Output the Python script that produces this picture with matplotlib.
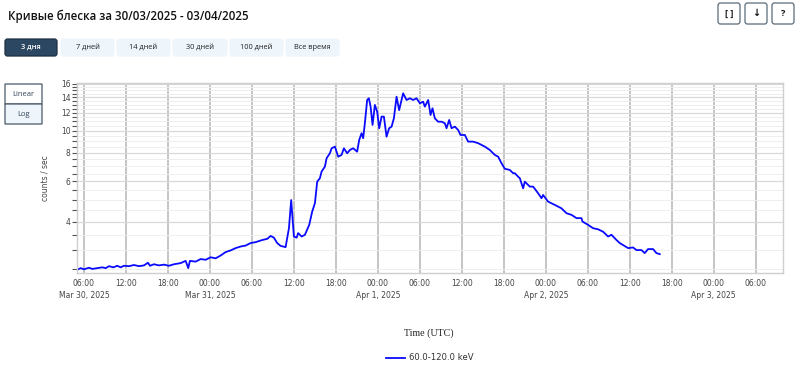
import matplotlib
matplotlib.use('Agg')
from matplotlib import pyplot as plt
from matplotlib.patches import FancyBboxPatch
from matplotlib.ticker import FixedLocator, NullFormatter
import pandas as pd

# Light curve, 60-120 keV (hours since 2025-03-30 00:00 UTC, counts/sec)
hours = [5.04, 5.53, 6.0, 6.71, 7.19, 7.9, 8.61, 9.1, 9.57, 10.19,
         10.76, 11.24, 11.71, 12.43, 13.14, 13.86, 14.57, 15.14, 15.43, 16.0,
         16.71, 17.43, 18.14, 18.86, 19.81, 20.53, 20.9, 21.14, 21.96, 22.67,
         23.39, 24.1, 24.81, 25.53, 26.24, 26.96, 27.67, 28.39, 29.1, 29.81,
         30.53, 31.47, 32.19, 32.67, 33.14, 33.61, 34.1, 34.81,
         35.29, 35.61, 36.0, 36.39, 36.61, 37.1, 37.57,
         38.19, 38.61, 39.0, 39.33, 39.71, 39.96, 40.43, 40.67, 41.14, 41.39,
         41.86, 42.33, 42.81, 43.14, 43.61, 44.0, 44.47, 45.04, 45.33, 45.67,
         45.9, 46.14, 46.47, 46.71, 46.96, 47.24, 47.57, 47.9, 48.19, 48.53,
         48.86, 49.24, 49.61, 49.96, 50.29, 50.67, 51.04, 51.61, 52.1, 52.57,
         53.04, 53.53, 54.0, 54.47, 54.71, 55.19, 55.53, 55.81, 56.14, 56.61,
         57.1, 57.57, 57.81, 58.19, 58.53, 59.0, 59.47, 59.81, 60.43, 60.9,
         61.61, 62.33, 63.29, 64.0, 64.71, 65.19, 65.67, 66.14, 66.86, 67.33,
         67.57, 68.04, 68.29, 68.53, 68.76, 69.0, 69.71, 70.19, 70.9, 71.39,
         71.61, 72.33, 73.29, 74.24, 74.96, 75.67, 76.39, 77.1, 77.24, 78.04,
         78.76, 79.47, 80.19, 80.9, 81.39, 82.1, 82.57, 83.76, 84.47, 84.96,
         85.67, 86.14, 86.61, 87.33, 87.81, 88.29]
rate = [2.47, 2.51, 2.48, 2.52, 2.49, 2.51, 2.53, 2.51, 2.56, 2.53,
        2.57, 2.53, 2.57, 2.56, 2.59, 2.56, 2.58, 2.65, 2.57, 2.61,
        2.58, 2.60, 2.57, 2.61, 2.64, 2.70, 2.51, 2.70, 2.68, 2.75,
        2.73, 2.80, 2.77, 2.85, 2.95, 3.00, 3.07, 3.12, 3.15, 3.23,
        3.26, 3.33, 3.37, 3.47, 3.41, 3.23, 3.14, 3.10,
        3.75, 4.98, 3.45, 3.41, 3.57, 3.45, 3.51,
        3.88, 4.43, 4.82, 5.99, 6.20, 6.63, 6.97, 7.58, 7.97, 8.38,
        8.52, 7.70, 7.84, 8.38, 7.97, 8.24, 8.38, 8.10, 9.11, 9.75,
        9.27, 10.78, 13.62, 13.86, 12.74, 10.60, 12.96, 12.11, 10.25, 11.52,
        11.52, 9.42, 10.25, 10.42, 11.33, 14.08, 12.30, 14.57, 13.62, 13.86,
        13.62, 13.86, 13.18, 13.39, 12.74, 13.62, 11.71, 12.53, 11.33, 10.95,
        10.95, 10.78, 10.25, 11.14, 10.25, 10.42, 10.08, 9.58, 9.58, 8.96,
        8.96, 8.82, 8.52, 8.24, 7.84, 7.70, 7.21, 6.82, 6.74, 6.52,
        6.52, 6.30, 6.20, 5.89, 5.60, 5.99, 5.70, 5.70, 5.33, 5.07,
        5.24, 4.90, 4.74, 4.58, 4.36, 4.29, 4.15, 4.15, 4.01, 3.88,
        3.75, 3.71, 3.62, 3.45, 3.51, 3.33, 3.23, 3.07, 3.09, 3.01,
        3.01, 2.92, 3.04, 3.04, 2.92, 2.89]

# x axis ticks every 6 h
tick_hours = [6, 12, 18, 24, 30, 36, 42, 48, 54, 60, 66, 72, 78, 84, 90, 96, 102]
tick_labels = ['06:00\nMar 30, 2025', '12:00', '18:00', '00:00\nMar 31, 2025', '06:00', '12:00',
               '18:00', '00:00\nApr 1, 2025', '06:00', '12:00', '18:00', '00:00\nApr 2, 2025',
               '06:00', '12:00', '18:00', '00:00\nApr 3, 2025', '06:00']
y_major = [4, 6, 8, 10, 12, 14, 16]
y_minor = [2.5, 3, 3.5, 4.5, 5, 5.5, 6.5, 7, 7.5, 8.5, 9, 9.5, 10.5, 11, 11.5,
           12.5, 13, 13.5, 14.5, 15, 15.5]

range_buttons = ['3 дня', '7 дней', '14 дней', '30 дней', '100 дней', 'Все время']

t0 = pd.Timestamp('2025-03-30 00:00')
times = t0 + pd.to_timedelta(hours, unit='h')
tick_times = t0 + pd.to_timedelta(tick_hours, unit='h')

W, H = 800, 368
fig = plt.figure(figsize=(W / 100, H / 100), dpi=100)

# main plot area
ax = fig.add_axes([77 / W, (H - 273) / H, (783 - 77) / W, (273 - 83) / H])
line, = ax.plot(times, rate, color='#0a0aff', lw=1.3, label='60.0-120.0 keV')
ax.set_yscale('log')
ax.set_ylim(2.39, 16.16)
ax.set_xlim(t0 + pd.Timedelta(hours=5), t0 + pd.Timedelta(hours=105.9))

ax.yaxis.set_major_locator(FixedLocator(y_major))
ax.yaxis.set_minor_locator(FixedLocator(y_minor))
ax.set_yticklabels([str(v) for v in y_major])
ax.yaxis.set_minor_formatter(NullFormatter())
ax.tick_params(axis='y', which='both', length=3.5, width=0.8, color='#555555',
               labelsize=5.5, labelcolor='#444444', pad=1)

ax.set_xticks(tick_times)
ax.set_xticklabels(tick_labels, linespacing=1.55)
ax.tick_params(axis='x', length=0, labelsize=5.5, labelcolor='#444444', pad=4)

ax.grid(which='minor', axis='y', color='#eeeeee', lw=0.7)
ax.grid(which='major', axis='y', color='#d9d9d9', lw=0.9)
ax.grid(which='major', axis='x', color='#b5b5b5', lw=1.1)
ax.set_axisbelow(True)
for s in ax.spines.values():
    s.set_color('#cfcfcf')
    s.set_linewidth(1)

# overlay in pixel coordinates for title, buttons and labels
ui = fig.add_axes([0, 0, 1, 1], zorder=-1)
ui.set_xlim(0, W)
ui.set_ylim(H, 0)
ui.axis('off')

ui.text(8, 16, 'Кривые блеска за 30/03/2025 - 03/04/2025', fontsize=8.3,
        family='Open Sans', fontweight='semibold', color='#111111', va='center')


def button(x0, y0, x1, y1, text, fc, ec, tc, size, weight='normal', r=2.5):
    ui.add_patch(FancyBboxPatch((x0 + r, y0 + r), x1 - x0 - 2 * r, y1 - y0 - 2 * r,
                                boxstyle='round,pad=%f' % r, fc=fc, ec=ec, lw=0.9))
    ui.text((x0 + x1) / 2, (y0 + y1) / 2, text, ha='center', va='center', fontsize=size,
            family=['Open Sans', 'DejaVu Sans'], color=tc, fontweight=weight)


btn_x = [(5, 57), (61, 114), (117, 170), (173, 227), (230, 283), (286, 339)]
for i, (lbl, (x0, x1)) in enumerate(zip(range_buttons, btn_x)):
    if i == 0:
        button(x0, 39, x1, 56, lbl, '#2b4761', '#1b2f42', 'white', 5.3, 'semibold')
    else:
        button(x0, 39, x1, 56, lbl, '#eef6fc', '#eef6fc', '#222222', 5.3)

button(718, 3, 740, 24, '[ ]', 'white', '#5c6b7a', '#111111', 6.5, 'bold')
button(745, 3, 767, 24, '↓', 'white', '#5c6b7a', '#111111', 7, 'bold')
button(772, 3, 794, 24, '?', 'white', '#5c6b7a', '#111111', 6.5, 'bold')

button(5, 84, 42, 104, 'Linear', 'white', '#4a5a6a', '#334455', 5.5, r=0.5)
button(5, 104, 42, 124, 'Log', '#eef6fc', '#4a5a6a', '#334455', 5.5, r=0.5)

ui.text(45, 178, 'counts / sec', rotation=90, ha='center', va='center',
        fontsize=5.5, color='#444444')
ui.text(429, 333, 'Time (UTC)', ha='center', va='center', fontsize=7.2,
        family='Liberation Serif', color='#222222')

fig.legend(handles=[line], loc='center', bbox_to_anchor=(430 / W, 1 - 358 / H),
           frameon=False, fontsize=6.1, handlelength=2.2, handletextpad=0.5,
           labelcolor='#333333')

plt.savefig('out.png', dpi=100)
